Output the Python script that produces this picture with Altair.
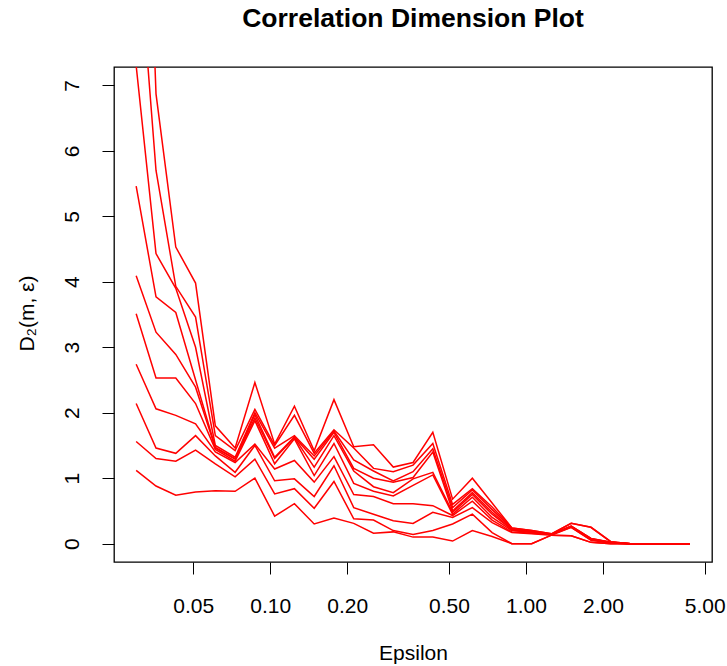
import altair as alt
import pandas as pd

epsilon = [0.0299, 0.03575, 0.04272, 0.05105, 0.0610, 0.07289, 0.08709, 0.10406,
           0.12434, 0.14857, 0.17752, 0.21211, 0.25345, 0.30284, 0.36185, 0.43236,
           0.51661, 0.61728, 0.73756, 0.88128, 1.0530, 1.2582, 1.5034, 1.7963,
           2.1464, 2.5645, 3.0643, 3.6614, 4.375]

d2_m1 = [1.12, 0.88, 0.74, 0.79, 0.81, 0.80, 1.00, 0.42, 0.61, 0.30, 0.39, 0.31, 0.16, 0.18, 0.10,
         0.10, 0.04, 0.20, 0.11, 0.00, 0.00, 0.13, 0.12, 0.02, 0.00, 0.0, 0.0, 0.0, 0.0]
d2_m2 = [1.56, 1.30, 1.26, 1.43, 1.22, 1.02, 1.29, 0.76, 0.84, 0.54, 0.95, 0.38, 0.36, 0.20, 0.14,
         0.20, 0.30, 0.45, 0.17, 0.00, 0.00, 0.13, 0.12, 0.02, 0.00, 0.0, 0.0, 0.0, 0.0]
d2_m3 = [2.14, 1.46, 1.38, 1.65, 1.34, 1.09, 1.50, 0.96, 0.99, 0.72, 1.19, 0.55, 0.45, 0.35, 0.31,
         0.48, 0.40, 0.55, 0.32, 0.17, 0.15, 0.13, 0.25, 0.05, 0.01, 0.0, 0.0, 0.0, 0.0]
d2_m4 = [2.74, 2.06, 1.96, 1.83, 1.40, 1.24, 1.52, 1.14, 1.27, 0.94, 1.33, 0.75, 0.72, 0.61, 0.61,
         0.58, 0.43, 0.65, 0.36, 0.18, 0.16, 0.14, 0.25, 0.06, 0.01, 0.0, 0.0, 0.0, 0.0]
d2_m5 = [3.51, 2.53, 2.53, 2.14, 1.44, 1.26, 1.88, 1.22, 1.60, 1.04, 1.53, 0.92, 0.80, 0.73, 0.89,
         1.05, 0.45, 0.71, 0.40, 0.20, 0.17, 0.14, 0.26, 0.07, 0.01, 0.0, 0.0, 0.0, 0.0]
d2_m6 = [4.09, 3.23, 2.89, 2.39, 1.46, 1.29, 1.92, 1.30, 1.62, 1.17, 1.65, 1.11, 0.87, 0.78, 0.99,
         1.09, 0.48, 0.75, 0.45, 0.21, 0.18, 0.14, 0.26, 0.07, 0.02, 0.0, 0.0, 0.0, 0.0]
d2_m7 = [5.46, 3.77, 3.53, 2.50, 1.47, 1.30, 1.97, 1.32, 1.63, 1.29, 1.70, 1.15, 1.00, 0.94, 1.01,
         1.40, 0.50, 0.78, 0.48, 0.22, 0.19, 0.14, 0.27, 0.08, 0.02, 0.0, 0.0, 0.0, 0.0]
d2_m8 = [7.30, 4.43, 3.90, 3.00, 1.50, 1.32, 2.00, 1.46, 1.65, 1.34, 1.72, 1.28, 1.11, 0.96, 1.10,
         1.45, 0.55, 0.82, 0.52, 0.23, 0.19, 0.14, 0.27, 0.08, 0.02, 0.0, 0.0, 0.0, 0.0]
d2_m9 = [9.60, 5.70, 3.93, 3.46, 1.65, 1.42, 2.05, 1.50, 1.96, 1.38, 1.74, 1.46, 1.15, 1.10, 1.20,
         1.53, 0.60, 0.84, 0.56, 0.24, 0.20, 0.15, 0.31, 0.25, 0.03, 0.0, 0.0, 0.0, 0.0]
d2_m10 = [15.0, 6.87, 4.53, 3.98, 1.80, 1.46, 2.46, 1.52, 2.10, 1.42, 2.20, 1.48, 1.51, 1.17, 1.24,
          1.70, 0.68, 1.00, 0.62, 0.24, 0.20, 0.15, 0.31, 0.25, 0.03, 0.0, 0.0, 0.0, 0.0]

series = [d2_m1, d2_m2, d2_m3, d2_m4, d2_m5, d2_m6, d2_m7, d2_m8, d2_m9, d2_m10]
x_ticks = [0.05, 0.1, 0.2, 0.5, 1.0, 2.0, 5.0]
y_ticks = [0, 1, 2, 3, 4, 5, 6, 7]

rows = []
for k, vals in enumerate(series, start=1):
    for e, v in zip(epsilon, vals):
        rows.append({"eps": e, "d2": v, "m": k})
df = pd.DataFrame(rows)

FONT = "Liberation Sans"

chart = alt.Chart(df).mark_line(color="#FF0000", strokeWidth=1.5, clip=True).encode(
    x=alt.X("eps:Q",
            scale=alt.Scale(type="log", domain=[0.02449, 5.342], nice=False),
            axis=alt.Axis(values=x_ticks, format=".2f", title="Epsilon", grid=False,
                          domain=False, tickSize=12, tickColor="black", tickWidth=1,
                          labelFontSize=21, labelFont=FONT, labelColor="black",
                          labelPadding=21, labelFlush=False, labelOverlap=False,
                          titleFontSize=21, titleFont=FONT, titleFontWeight="normal",
                          titleColor="black", titleBaseline="middle", titleY=91)),
    y=alt.Y("d2:Q",
            scale=alt.Scale(domain=[-0.28, 7.28], nice=False, zero=False),
            axis=alt.Axis(values=y_ticks, format="d", title="D₂(m, ε)", grid=False,
                          domain=False, tickSize=12, tickColor="black", tickWidth=1,
                          labelFontSize=21, labelFont=FONT, labelColor="black",
                          labelAngle=270, labelAlign="center", labelBaseline="alphabetic",
                          labelPadding=24, labelFlush=False, labelOverlap=False,
                          titleFontSize=21, titleFont=FONT, titleFontWeight="normal",
                          titleColor="black", titleAngle=270, titleBaseline="middle",
                          titleAlign="center", titleX=-87, titleY=246)),
    detail="m:N",
).properties(
    width=598,
    height=495,
    title=alt.TitleParams("Correlation Dimension Plot", fontSize=26.5, font=FONT,
                          fontWeight="bold", color="black", anchor="middle", offset=35),
    padding={"left": 114, "top": 67, "right": 15, "bottom": 104},
    autosize=alt.AutoSizeParams(type="none"),
).configure(
    background="white",
    view=alt.ViewConfig(stroke="black", strokeWidth=1.3),
)

chart.save("out.html", embed_options={"renderer": "svg", "actions": False})
